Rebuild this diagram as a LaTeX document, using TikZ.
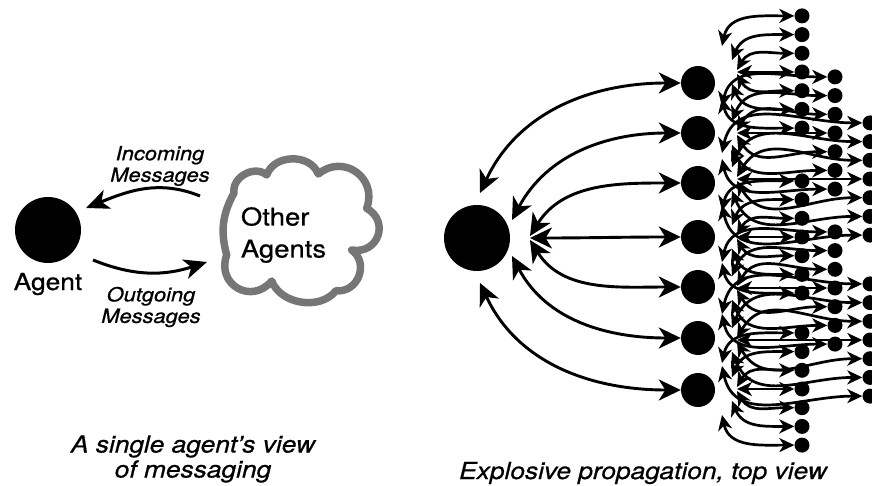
\documentclass[tikz,border=0pt]{standalone}
\usepackage{fontspec}
\setmainfont{TeX Gyre Heros}[FakeStretch=1.12,FakeBold=0.7]
\usetikzlibrary{arrows.meta,calc}
\pgfdeclarelayer{links}
\pgfsetlayers{links,main}
\definecolor{cloudgray}{RGB}{118,118,118}
\tikzset{
  agentdot/.style={circle,fill=black,inner sep=0pt,minimum size=66pt},
  peerdot/.style={circle,fill=black,inner sep=0pt,minimum size=34pt},
  leafdot/.style={circle,fill=black,inner sep=0pt,minimum size=15pt},
  bighead/.tip={Stealth[length=22pt,width=21pt,inset=6.5pt]},
  smallhead/.tip={Stealth[length=15pt,width=14pt,inset=4.5pt]},
  msghead/.tip={Stealth[length=23pt,width=20pt,inset=6.5pt]},
  fanbig/.style={line width=2.9pt,bighead-bighead},
  fansmall/.style={line width=2.7pt,smallhead-smallhead},
  msgarrow/.style={line width=3pt,-msghead},
  nametext/.style={inner sep=0pt,font=\fontsize{23.5}{26}\selectfont},
  cloudtext/.style={inner sep=0pt,align=left,font=\fontsize{24.5}{32}\selectfont},
  msgtext/.style={inner sep=0pt,align=center,font=\itshape\fontsize{19.5}{21.5}\selectfont},
  captiontext/.style={inner sep=0pt,align=center,font=\itshape\fontsize{23.5}{25}\selectfont}
}
\begin{document}
\begin{tikzpicture}[x=1pt,y=1pt]
\useasboundingbox (0,-486) rectangle (872,0);

% ---------- single agent and its messages ----------
\node[agentdot] (agent) at (48,-230) {};
\node[nametext,anchor=base] (agentname) at (48,-290) {Agent};

% cloud of other agents: one lobe between each pair of dents
\draw[cloudgray,line width=7.5pt,line join=round]
  (234,-193)
  to[bend left=70,looseness=1.1] (266.7,-175)
  to[bend left=70,looseness=1.1] (318.3,-174)
  to[bend left=75,looseness=1.4] (366.7,-208.3)
  to[bend left=80,looseness=1.55] (351.7,-250)
  to[bend left=75,looseness=1.3] (336,-290.7)
  to[bend left=60] (271.7,-281)
  to[bend left=80,looseness=1.55] (226.7,-255)
  to[bend left=22] cycle;
\node[cloudtext] (others) at (283.5,-235) {Other\\Agents};

\coordinate (inStart) at (200,-196);
\coordinate (inEnd) at (86,-208);
\draw[msgarrow] (inStart) to[out=158,in=22] (inEnd);
\coordinate (outStart) at (93,-260);
\coordinate (outEnd) at (207,-262);
\draw[msgarrow] (outStart) to[out=-22,in=198] (outEnd);

\node[msgtext] (incoming) at (160,-166) {Incoming\\Messages};
\node[msgtext] (outgoing) at (151,-307) {Outgoing\\Messages};

\node[captiontext] (leftcap) at (193,-459) {A single agent’s view\\of messaging};

% ---------- explosive propagation ----------
\node[agentdot] (b) at (477,-238) {};
\foreach \i/\y in {1/83,2/133,3/183,4/237,5/287,6/338,7/390}
  \node[peerdot] (n\i) at (698,-\y) {};

\begin{pgfonlayer}{links}
\foreach \i/\dx/\dy/\o in {1/3/45/65,2/35/18/62,3/53/2/58,4/53/0/0,5/53/-2/-58,6/35/-18/-62,7/3/-45/-65}{
  \coordinate (bs\i) at ($(b)+(\dx,\dy)$);
  \draw[fanbig] (bs\i) to[out=\o,in=180] (n\i);
}
\end{pgfonlayer}

% each peer fans out to seven further agents
\foreach \i/\c/\x in {1/72/802,2/133/835,3/179/870,4/237/802,5/288/835,6/340/870,7/389/802}{
  \foreach \k/\dx/\dy/\o in {1/24/26/78,2/34/12/68,3/39/2/60,4/39/0/0,5/39/-2/-60,6/34/-12/-68,7/24/-26/-78}{
    \node[leafdot] (d\i-\k) at (\x,{-\c-(\k-4)*18.7}) {};
    \coordinate (s\i-\k) at ({698+\dx},{\dy-\c});
    \begin{pgfonlayer}{links}
      \draw[fansmall] (s\i-\k) to[out=\o,in=180,looseness=1.1] (d\i-\k);
    \end{pgfonlayer}
  }
}

\node[captiontext,anchor=base] (rightcap) at (643,-479) {Explosive propagation, top view};
\end{tikzpicture}
\end{document}
